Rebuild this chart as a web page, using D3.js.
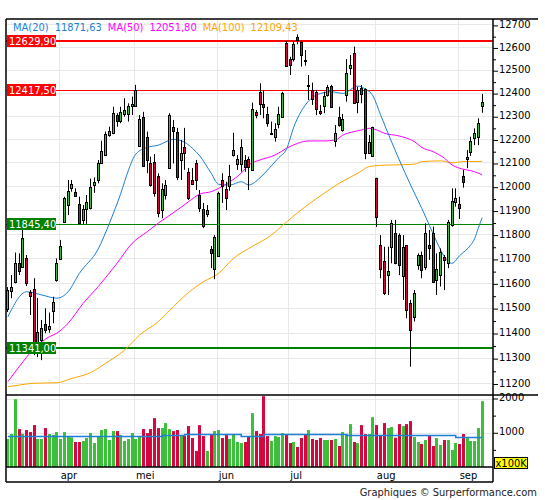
<!DOCTYPE html>
<html><head><meta charset="utf-8">
<script src="https://cdn.jsdelivr.net/npm/d3@7"></script>
<style>body{margin:0;background:#fff} svg{display:block} text{font-family:"DejaVu Sans Condensed","Liberation Sans",Arial,sans-serif}</style>
</head><body><svg id="c" width="545" height="500"></svg>
<script>
// ---- DATA ----
const open  = [11497,11572,11609,11684,11670,11704,11568,11578,11354,11374,11437,11417,11492,11616,11700,11853,11925,11995,11979,11929,11863,11907,11911,12011,12030,12101,12136,12221,12231,12307,12283,12312,12312,12346,12346,12174,12300,12214,12101,12108,12047,11904,11966,12080,12257,12236,12115,12168,12065,12030,12101,11967,11908,11888,11741,11660,11714,12030,11991,12005,12136,12098,12098,12115,12118,12073,12321,12409,12355,12312,12226,12212,12268,12300,12621,12551,12550,12650,12628,12547,12434,12416,12406,12325,12346,12394,12433,12197,12297,12243,12394,12510,12576,12365,12423,12419,12146,12132,12037,11759,11695,11635,11752,11807,11800,11632,11759,11521,11465,11677,11718,11670,11759,11807,11616,11636,11709,11684,11842,11939,11928,12047,12118,12147,12210,12212,12346];
const high  = [11587,11636,11728,11725,11824,11718,11575,11623,11543,11454,11501,11484,11548,11704,11780,11960,12030,12030,11995,11960,11925,11967,12036,12041,12115,12197,12236,12257,12343,12315,12343,12380,12358,12387,12438,12307,12321,12236,12129,12140,12058,12016,12030,12315,12286,12252,12200,12252,12081,12081,12115,11988,11934,11925,11755,11800,11981,12059,12023,12094,12231,12136,12203,12136,12129,12361,12329,12445,12416,12343,12279,12272,12343,12408,12631,12561,12628,12660,12635,12591,12481,12448,12416,12351,12408,12438,12438,12264,12343,12312,12551,12569,12606,12430,12438,12423,12221,12257,12040,11800,11752,11752,11863,11863,11807,11800,11759,11535,11575,11725,11732,11849,11821,11835,11725,11745,11718,11863,11995,11995,11960,12073,12157,12214,12250,12293,12398];
const low   = [11486,11542,11602,11636,11665,11591,11474,11314,11306,11294,11401,11403,11441,11609,11698,11851,11883,11981,11960,11845,11846,11846,11907,11976,12016,12098,12132,12214,12225,12257,12272,12300,12279,12307,12346,12171,12088,12059,12002,11960,11874,11870,11948,12080,12100,12030,12030,12073,11946,12009,11988,11896,11829,11875,11664,11619,11714,11934,11904,11985,12129,12073,12065,12065,11988,12073,12293,12307,12293,12257,12221,12193,12250,12298,12518,12481,12540,12616,12518,12522,12372,12351,12307,12307,12315,12387,12343,12171,12257,12236,12365,12481,12356,12315,12358,12118,12143,12129,11834,11623,11555,11555,11684,11680,11636,11535,11461,11268,11448,11657,11623,11657,11698,11609,11555,11589,11575,11664,11835,11918,11867,11998,12080,12132,12178,12178,12317];
const close = [11575,11589,11687,11654,11787,11602,11551,11354,11406,11421,11414,11430,11528,11684,11755,11953,11985,12012,11964,11849,11910,11938,12001,12023,12101,12155,12226,12240,12315,12283,12319,12329,12348,12354,12416,12289,12090,12115,12009,11975,11890,11991,12009,12307,12240,12042,12143,12143,11953,12013,12030,11912,11839,11904,11725,11793,11975,12005,11953,12047,12157,12119,12168,12087,12087,12332,12307,12357,12341,12274,12231,12246,12312,12401,12522,12525,12618,12635,12569,12545,12438,12375,12332,12317,12390,12430,12343,12229,12264,12289,12492,12525,12358,12416,12398,12146,12193,12257,11876,11660,11564,11653,11849,11687,11677,11750,11494,11414,11562,11718,11657,11807,11745,11609,11660,11732,11698,11854,11943,11956,11911,12023,12129,12196,12231,12274,12362];
const volume = [817,962,1980,1108,971,1079,1020,1224,817,817,1137,962,933,1020,817,1020,904,866,730,730,759,846,991,701,904,1079,1108,788,1049,1049,933,759,817,991,817,904,1108,991,1108,1427,1137,1137,1282,1108,1049,1079,904,904,1195,846,468,1224,904,468,933,1049,1079,846,933,817,962,730,701,730,875,1573,1049,962,2067,904,759,904,875,991,933,701,730,584,846,962,1079,817,788,846,788,788,788,817,613,1020,962,1253,730,701,1224,962,962,1456,1224,933,1282,1137,1166,855,1253,1195,1253,1340,875,730,672,788,904,613,846,642,788,788,497,701,672,962,846,759,759,1137,1922];

// moving averages: [candle index, value]
const ma20  = [[0,11467],[5,11568],[9,11555],[13,11542],[16,11568],[19,11643],[24,11743],[27,11850],[30,11974],[32,12070],[34,12140],[37,12168],[40,12178],[44,12203],[47,12190],[49,12165],[51,12132],[54,12059],[56,12012],[59,12009],[62,12023],[64,12009],[67,12040],[70,12090],[72,12125],[74,12160],[76,12257],[79,12350],[82,12394],[86,12408],[89,12401],[93,12433],[95,12420],[97,12390],[99,12309],[102,12190],[104,12115],[107,12009],[110,11910],[112,11840],[114,11770],[116,11710],[118,11684],[120,11715],[123,11760],[124,11785],[125,11830],[126,11872]];
const ma50  = [[0,11209],[3,11268],[7,11341],[11,11387],[13,11401],[16,11441],[20,11521],[24,11589],[29,11684],[33,11766],[37,11814],[40,11850],[45,11904],[48,11939],[51,11971],[54,11981],[56,11995],[59,12023],[62,12059],[64,12094],[67,12115],[71,12136],[74,12164],[77,12186],[80,12196],[84,12196],[87,12200],[89,12221],[92,12236],[94,12243],[96,12250],[98,12243],[100,12229],[104,12217],[108,12193],[110,12168],[113,12150],[116,12122],[118,12094],[120,12080],[124,12065],[126,12052]];
const ma100 = [[0,11189],[3,11196],[7,11203],[13,11205],[17,11222],[22,11245],[26,11282],[31,11334],[35,11394],[40,11448],[44,11508],[48,11565],[52,11609],[56,11643],[60,11705],[64,11745],[70,11800],[74,11854],[79,11918],[84,11974],[88,12016],[93,12059],[96,12087],[99,12092],[103,12094],[108,12097],[110,12108],[115,12111],[118,12103],[121,12108],[126,12109]];
const volMA = [[0,905],[41,935],[47,960],[62,915],[68,950],[90,925],[119,885],[126,885]];

const maNames  = ["MA(20)","MA(50)","MA(100)"];
const maLast   = ["11871,63","12051,80","12109,43"];
const levels   = [12629.90, 12417.50, 11845.40, 11341.00];
const levelTxt = ["12629,90","12417,50","11845,40","11341,00"];
const priceTicks = [11200,11300,11400,11500,11600,11700,11800,11900,12000,12100,12200,12300,12400,12500,12600,12700];
const priceMinor = [11150,11250,11350,11450,11550,11650,11750,11850,11950,12050,12150,12250,12350,12450,12550,12650];
const volTicks = [1000,2000];
const volMinor = [500,1500];
const months = ["apr","mei","jun","jul","aug","sep"];
const monthStart = [14,34,56,75,98,120];

// ---- STYLE / LAYOUT ----
const GREEN="#3cc03c", RED="#d6073f", BLUE="#1c7fd6", MAG="#ff00ff", ORA="#ffa500";
const L=6, R=493, T=19, PB=395, VB=467, XB=482;
const FS = 11;
const N = open.length;
const svg = d3.select("#c");

const x = d3.scaleBand().domain(d3.range(N)).range([6,484]);
const cx = i => x(i) + x.bandwidth()/2;
const y = d3.scaleLog().domain([11200,12700]).range([384,25.4]);
const yv = d3.scaleLinear().domain([0,2000]).range([467,398.5]);
const px = v => Math.round(v)+0.5;

svg.append("defs").append("clipPath").attr("id","cp").append("rect").attr("x",L).attr("y",T).attr("width",R-L).attr("height",PB-T);

// gridlines
const grid = svg.append("g").attr("stroke","#e8e8e8").attr("stroke-width",1);
priceTicks.forEach(t=>grid.append("line").attr("x1",L).attr("x2",R).attr("y1",px(y(t))-1).attr("y2",px(y(t))-1));
volTicks.forEach(t=>grid.append("line").attr("x1",L).attr("x2",R).attr("y1",px(yv(t))).attr("y2",px(yv(t))));
monthStart.forEach(s=>grid.append("line").attr("x1",px(x(s))).attr("x2",px(x(s))).attr("y1",T).attr("y2",VB));

// level lines
const lvl = svg.append("g");
const lvlColor = [ "#ff0000","#ff0000","#008000","#008000" ];
const lvlWidth = [2,1,1,2];
levels.forEach((v,k)=>{
  const yy = lvlWidth[k]===2 ? Math.round(y(v)) : px(y(v));
  lvl.append("line").attr("x1",L).attr("x2",R).attr("y1",yy).attr("y2",yy).attr("stroke",lvlColor[k]).attr("stroke-width",lvlWidth[k]);
});

// moving averages
const ml = d3.line().x(d=>cx(d[0])).y(d=>y(d[1])).curve(d3.curveMonotoneX);
const mg = svg.append("g").attr("clip-path","url(#cp)").attr("fill","none").attr("stroke-width",1);
mg.append("path").attr("d",ml(ma100)).attr("stroke",ORA);
mg.append("path").attr("d",ml(ma50)).attr("stroke",MAG);
mg.append("path").attr("d",ml(ma20)).attr("stroke",BLUE);

// candles
const cg = svg.append("g").attr("clip-path","url(#cp)");
d3.range(N).forEach(i=>{
  const c = Math.floor(cx(i));
  const up = close[i] >= open[i];
  cg.append("line").attr("x1",c+0.5).attr("x2",c+0.5).attr("y1",y(high[i])).attr("y2",y(low[i])).attr("stroke","#000").attr("stroke-width",1);
  const yt = Math.round(y(Math.max(open[i],close[i]))), yb = Math.round(y(Math.min(open[i],close[i])));
  cg.append("rect").attr("x",c-0.5).attr("y",yt+0.5).attr("width",2).attr("height",Math.max(1,yb-yt))
    .attr("fill",up?GREEN:RED).attr("stroke","#000").attr("stroke-width",1);
});

// level boxes (on top of candles)
const lb = svg.append("g");
levels.forEach((v,k)=>{
  const yy = y(v);
  lb.append("rect").attr("x",L+1).attr("y",Math.round(yy)-6).attr("width",49).attr("height",12).attr("fill",lvlColor[k]);
  lb.append("text").attr("x",9).attr("y",yy).attr("dy","0.36em").attr("fill","#fff").attr("font-size",FS).text(levelTxt[k]);
});

// volume
const vg = svg.append("g");
d3.range(N).forEach(i=>{
  const c = Math.floor(cx(i));
  const up = close[i] >= open[i];
  vg.append("rect").attr("x",c-1).attr("y",yv(volume[i])).attr("width",3).attr("height",VB-yv(volume[i])).attr("fill",up?GREEN:RED);
});
const vml = d3.line().x(d=>cx(d[0])).y(d=>Math.round(yv(d[1]))+0.5).curve(d3.curveStepAfter);
svg.append("path").attr("d",vml(volMA)).attr("fill","none").attr("stroke",BLUE).attr("stroke-width",1.5);

// frame
const fr = svg.append("g").attr("stroke","#000").attr("stroke-width",1.5);
fr.append("line").attr("x1",L).attr("x2",538).attr("y1",T).attr("y2",T);
fr.append("line").attr("x1",L).attr("x2",538).attr("y1",PB).attr("y2",PB);
fr.append("line").attr("x1",L).attr("x2",R).attr("y1",VB).attr("y2",VB);
fr.append("line").attr("x1",L).attr("x2",R).attr("y1",XB).attr("y2",XB);
fr.append("line").attr("x1",L).attr("x2",L).attr("y1",T).attr("y2",XB);
fr.append("line").attr("x1",R).attr("x2",R).attr("y1",T).attr("y2",XB);

// price axis
const ax = svg.append("g").attr("transform",`translate(${R},0)`)
  .call(d3.axisRight(y).tickValues(priceTicks).tickSize(5).tickPadding(1).tickFormat(d3.format("d")));
const axm = svg.append("g").attr("transform",`translate(${R},0)`)
  .call(d3.axisRight(y).tickValues(priceMinor).tickSize(3).tickFormat(""));
const vax = svg.append("g").attr("transform",`translate(${R},0)`)
  .call(d3.axisRight(yv).tickValues(volTicks).tickSize(5).tickPadding(1).tickFormat(d3.format("d")));
const vaxm = svg.append("g").attr("transform",`translate(${R},0)`)
  .call(d3.axisRight(yv).tickValues(volMinor).tickSize(3).tickFormat(""));
[ax,axm,vax,vaxm].forEach(g=>{
  g.select(".domain").remove();
  g.selectAll("text").attr("font-size",FS).attr("font-family",null).attr("fill","#000").attr("dy","0.2em");
  g.selectAll("line").attr("stroke","#000");
});
axm.selectAll(".tick").filter(d=>y(d)<T||y(d)>PB).remove();

// x100K box
svg.append("rect").attr("x",494.5).attr("y",457.5).attr("width",33).attr("height",11).attr("fill","#ffff00").attr("stroke","#000").attr("stroke-width",1);
svg.append("text").attr("x",495.5).attr("y",463).attr("dy","0.36em").attr("font-size",FS).text("x100K");

// month labels
months.forEach((m,k)=>svg.append("text").attr("x",x(monthStart[k])+2).attr("y",475).attr("dy","0.36em").attr("font-size",FS).attr("fill","#000").text(m));

// legend
let lx = 13;
const maCol=[BLUE,MAG,ORA];
maNames.forEach((n,k)=>{
  const t1 = svg.append("text").attr("x",lx).attr("y",27).attr("dy","0.36em").attr("font-size",FS).attr("fill",maCol[k]).text(n);
  lx += t1.node().getComputedTextLength()+6;
  const t2 = svg.append("text").attr("x",lx).attr("y",27).attr("dy","0.36em").attr("font-size",FS).attr("fill",maCol[k]).text(maLast[k]);
  lx += t2.node().getComputedTextLength()+6;
});

// footer
svg.append("text").attr("x",537).attr("y",492).attr("dy","0.36em").attr("text-anchor","end").attr("font-size",FS).attr("fill","#222").text("Graphiques © Surperformance.com");
</script></body></html>
